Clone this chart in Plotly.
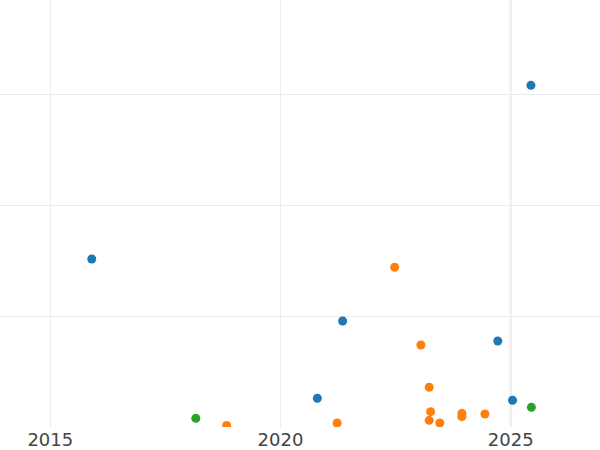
import plotly.graph_objects as go

# Series A (blue)
a_year = [2015.90, 2021.35, 2020.80, 2024.72, 2025.04, 2025.44]
a_val = [151.4, 95.5, 25.9, 77.5, 24.1, 307.8]

# Series B (orange)
b_year = [2022.48, 2023.05, 2023.23, 2023.26, 2023.23, 2023.46, 2023.94, 2023.94, 2024.44, 2021.23, 2018.83]
b_val = [143.9, 73.9, 35.8, 13.8, 6.0, 3.6, 12.3, 9.3, 11.7, 3.6, 1.4]

# Series C (green)
c_year = [2018.16, 2025.45]
c_val = [7.8, 17.7]

x_ticks = [2015, 2020, 2025]
y_ticks = [100, 200, 300]

fig = go.Figure()
for xs, ys, col in [(a_year, a_val, "#1f77b4"), (b_year, b_val, "#ff7f0e"), (c_year, c_val, "#2ca02c")]:
    fig.add_trace(go.Scatter(x=xs, y=ys, mode="markers",
                             marker=dict(color=col, size=9, line=dict(width=0)),
                             showlegend=False))

fig.add_vline(x=2025, line=dict(color="#ebebeb", width=2), layer="below")

fig.update_layout(
    width=600, height=450,
    margin=dict(l=0, r=0, t=0, b=23),
    paper_bgcolor="white", plot_bgcolor="white",
    font=dict(family="DejaVu Sans", size=18, color="#444"),
    xaxis=dict(range=[2013.907, 2026.94], tickvals=x_ticks, showgrid=True,
               gridcolor="#ebebeb", gridwidth=1, zeroline=False, showline=False,
               ticks=""),
    yaxis=dict(range=[0, 384.7], tickvals=y_ticks, showgrid=True,
               gridcolor="#ebebeb", gridwidth=1, zeroline=False, showline=False,
               showticklabels=False, ticks=""),
)

fig.write_html("out.html", config={"displayModeBar": False},
               post_script="document.body.style.margin='0';document.body.style.overflow='hidden';")
